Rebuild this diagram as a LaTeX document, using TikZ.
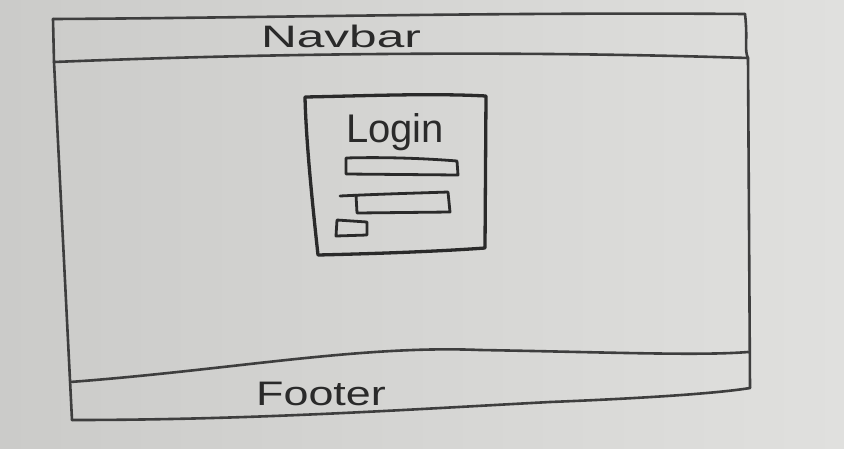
\documentclass[tikz,border=0pt]{standalone}
\usepackage{fontspec}
\setmainfont{Liberation Sans}
\definecolor{paperL}{RGB}{203,203,201}
\definecolor{paperR}{RGB}{224,224,222}
\definecolor{ink}{RGB}{62,62,62}
\definecolor{inkdark}{RGB}{42,42,42}
\tikzset{
  sketch/.style={draw=ink, line width=2.6pt, line cap=round, line join=round},
  boldsketch/.style={draw=inkdark, line width=3.3pt, line cap=round, line join=round},
  hand/.style={text=inkdark, inner sep=0pt, anchor=center},
}
\begin{document}
\begin{tikzpicture}[x=1pt,y=-1pt]
\useasboundingbox (0,0) rectangle (844,448);
\shade[left color=paperL, right color=paperR] (0,0) rectangle (844,448);
% outer frame
\coordinate (tl) at (53,19);
\coordinate (tr) at (745,14);
\coordinate (nbl) at (54,62);
\coordinate (nbr) at (748,58);
\coordinate (br) at (750,388);
\coordinate (bl) at (72,420);
% navbar top
\draw[sketch] (tl) .. controls (250,18) and (500,12) .. (tr);
% navbar bottom line
\draw[sketch] (nbl) .. controls (250,54) and (500,50) .. (nbr);
% left edge of navbar
\draw[sketch] (tl) -- (nbl);
% right edge
\draw[sketch] (tr) .. controls (748,40) and (744,50) .. (nbr) -- (br);
% left edge main
\draw[sketch] (nbl) -- (bl);
% footer top line
\draw[sketch] (70,382) .. controls (230,370) and (360,345) .. (480,350)
   .. controls (600,352) and (700,356) .. (748,352);
% footer bottom line
\draw[sketch] (bl) .. controls (250,420) and (400,410) .. (550,402)
   .. controls (650,398) and (720,393) .. (br);
% login box
\draw[boldsketch] (305,97) .. controls (360,96) and (430,93) .. (486,96)
  -- (485,248) .. controls (430,252) and (360,254) .. (318,255)
  .. controls (312,200) and (306,140) .. (305,97);
% input 1
\draw[boldsketch, line width=2.8pt] (346,158) -- (346,174) -- (458,175) -- (457,161) .. controls (420,158) and (380,157) .. (346,158);
% input 2
\draw[boldsketch, line width=2.8pt] (340,196) .. controls (380,194) and (420,193) .. (448,192) -- (450,212) -- (357,213) -- (356,195);
% small box
\draw[boldsketch, line width=2.8pt] (337,220) -- (336,236) -- (367,235) -- (367,222) -- (337,220);
% texts
\node[hand, font=\fontsize{31}{31}\selectfont, xscale=1.6] (navbar) at (341,36) {Navbar};
\node[hand, font=\fontsize{40}{40}\selectfont] (login) at (395,132) {Login};
\node[hand, font=\fontsize{34}{34}\selectfont, xscale=1.32] (footer) at (321,394) {Footer};
\end{tikzpicture}
\end{document}
